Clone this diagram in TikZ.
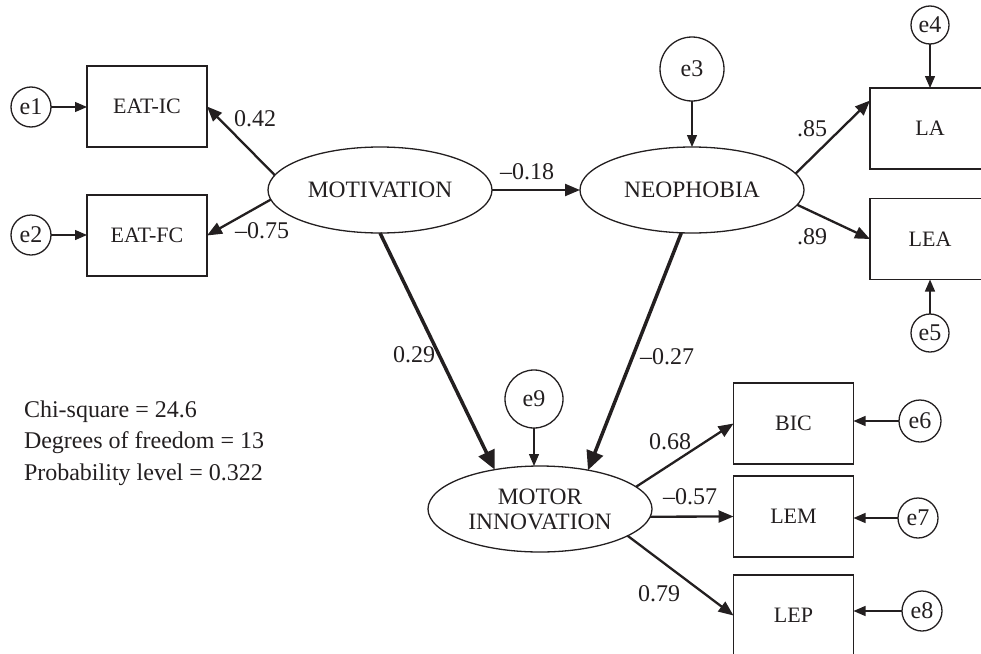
\documentclass[tikz,border=0pt]{standalone}
\usepackage{fontspec}
\setmainfont{Liberation Serif}
\usetikzlibrary{arrows.meta,shapes.geometric,calc}
\definecolor{ink}{RGB}{35,31,32}
\begin{document}
\begin{tikzpicture}[x=1pt,y=-1pt,
  every node/.style={text=ink, inner sep=0pt, outer sep=0pt},
  obs/.style={draw=ink, line width=1.4pt, rectangle, minimum width=120pt, minimum height=81pt,
    font=\fontsize{22}{26}\selectfont},
  lat/.style={draw=ink, line width=1.3pt, ellipse, minimum width=224pt, minimum height=86pt,
    align=center, font=\fontsize{23.5}{25}\selectfont},
  err/.style={draw=ink, line width=1.3pt, circle, minimum size=40pt, font=\fontsize{24}{28}\selectfont},
  coef/.style={font=\fontsize{24}{28}\selectfont},
  stat/.style={anchor=base west, font=\fontsize{24}{28}\selectfont},
  errarrow/.style={draw=ink, line width=1.3pt, -{Triangle[length=12pt,width=10pt]}},
  loading/.style={draw=ink, line width=2.3pt, -{Triangle[length=15pt,width=12pt]}},
  strong/.style={draw=ink, line width=3.5pt, -{Triangle[length=19pt,width=17pt]}},
]
\useasboundingbox (0,0) rectangle (981,653);
\clip (0,0) rectangle (981,653);

% latent variables
\node[lat] (mot) at (380,190) {MOTIVATION};
\node[lat] (neo) at (692,190) {NEOPHOBIA};
\node[lat] (mi)  at (540,509) {MOTOR\\INNOVATION};

% observed indicators
\node[obs] (ic)  at (147,106.5) {EAT-IC};
\node[obs] (fc)  at (147,235.5) {EAT-FC};
\node[obs] (la)  at (930,128.5) {LA};
\node[obs] (lea) at (930,239)   {LEA};
\node[obs] (bic) at (793.5,423.5) {BIC};
\node[obs] (lem) at (793.5,516.5) {LEM};
\node[obs] (lep) at (793.5,615.5) {LEP};

% error terms
\node[err] (e1) at (31,107) {e1};
\node[err] (e2) at (31,235) {e2};
\node[err, minimum size=64pt] (e3) at (692,69) {e3};
\node[err, minimum size=38pt] (e4) at (930,25) {e4};
\node[err, minimum size=38pt] (e5) at (930,333) {e5};
\node[err, minimum size=42pt] (e6) at (920,421) {e6};
\node[err, minimum size=40pt] (e7) at (918,518) {e7};
\node[err, minimum size=40pt] (e8) at (922,611) {e8};
\node[err, minimum size=58pt] (e9) at (534,399) {e9};

% error arrows
\draw[errarrow] (e1.east) -- (e1.east -| ic.west);
\draw[errarrow] (e2.east) -- (e2.east -| fc.west);
\draw[errarrow] (e3.south) -- (neo.north);
\draw[errarrow] (e4.south) -- (e4.south |- la.north);
\draw[errarrow] (e5.north) -- (e5.north |- lea.south);
\draw[errarrow] (e6.west) -- (e6.west -| bic.east);
\draw[errarrow] (e7.west) -- (e7.west -| lem.east);
\draw[errarrow] (e8.west) -- (e8.west -| lep.east);
\draw[errarrow] (e9.south) -- (e9.south |- mi.north);

% structural and measurement paths
\draw[loading] (mot.172) -- (ic.east);
\draw[loading] (mot.185) -- (fc.east);
\draw[loading] (mot.east) -- (neo.west);
\draw[loading] (neo.9) -- ([yshift=28pt]la.west);
\draw[loading] (neo.-8) -- (lea.west);
\draw[strong]  (mot.south) -- (mi.139);
\draw[strong]  (neo.-104) -- (mi.39);
\draw[loading] (mi.13) -- (bic.west);
\draw[loading] (mi.-4) -- (lem.west);
\draw[loading] (mi.-17) -- (lep.west);

% coefficients
\node[coef] (c1)  at (255,119) {0.42};
\node[coef] (c2)  at (262,231) {\textendash0.75};
\node[coef] (c3)  at (527,172) {\textendash0.18};
\node[coef] (c4)  at (812,129) {.85};
\node[coef] (c5)  at (812,237) {.89};
\node[coef] (c6)  at (414,355) {0.29};
\node[coef] (c7)  at (667,357) {\textendash0.27};
\node[coef] (c8)  at (670,442) {0.68};
\node[coef] (c9)  at (690,497) {\textendash0.57};
\node[coef] (c10) at (659,594) {0.79};

% fit statistics
\node[stat] (s1) at (24,417) {Chi-square = 24.6};
\node[stat] (s2) at (24,448) {Degrees of freedom = 13};
\node[stat] (s3) at (24,480) {Probability level = 0.322};
\end{tikzpicture}
\end{document}
